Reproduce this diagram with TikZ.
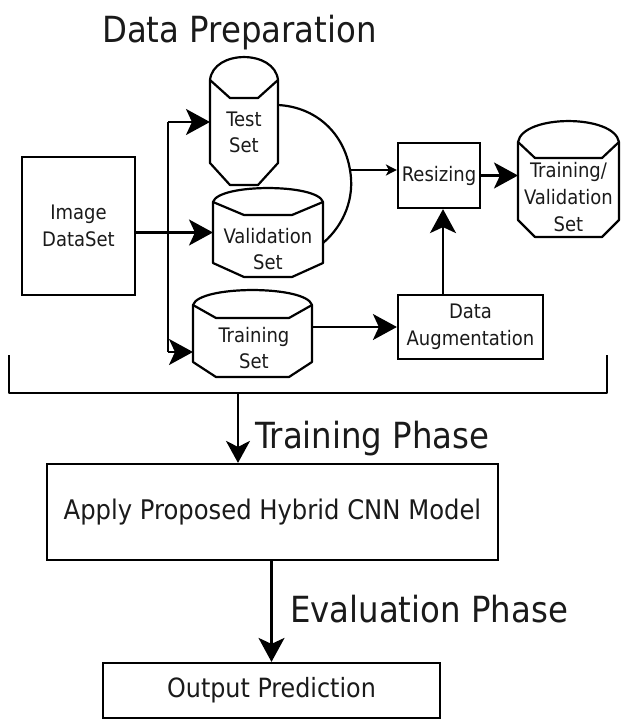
\documentclass[tikz,border=0pt]{standalone}
\usepackage{fontspec}
\setmainfont{DejaVu Sans Condensed}
\usetikzlibrary{arrows.meta}
\definecolor{ink}{HTML}{1A1A1A}
\newcommand\drawcyl[8]{% L R Ttop Tcap Tin Sbot Bot d
  \draw[ln] (#1,#4) .. controls ({#1+0.05*(#2-#1)},{#4-1.33*(#4-#3)}) and ({#2-0.05*(#2-#1)},{#4-1.33*(#4-#3)}) .. (#2,#4)
     -- (#2,#6) -- ({#2-#8},#7) -- ({#1+#8},#7) -- (#1,#6) -- cycle;
  \draw[ln] (#1,#4) -- ({#1+#8},#5) -- ({#2-#8},#5) -- (#2,#4);
}
\begin{document}
\begin{tikzpicture}[x=1pt,y=-1pt,
  ln/.style={line width=2.2pt, draw=black, line join=round},
  box/.style={draw=black, line width=2.2pt, inner sep=0pt, align=center, text=ink},
  body/.style={inner sep=0pt, outer sep=0pt, draw=none},
  txt/.style={text=ink, align=center, inner sep=0pt, font=\fontsize{20}{26}\selectfont},
  phase/.style={text=ink, inner sep=0pt, anchor=base west, font=\fontsize{36}{40}\selectfont},
  big/.style={ln, -{Stealth[length=24pt,width=26pt,inset=6pt]}},
  mid/.style={ln, -{Stealth[length=22pt,width=24pt,inset=6pt]}},
  small/.style={ln, -{Stealth[length=11pt,width=11pt,inset=3pt]}}
]
\useasboundingbox (0,0) rectangle (622,720);

% title
\node[phase] (title) at (102,42) {Data Preparation};

% image dataset
\node[box, minimum width=113pt, minimum height=138pt, font=\fontsize{20}{27}\selectfont] (img) at (78.5,226) {Image\\DataSet};

% cylinders
\drawcyl{210}{278}{57}{80}{98}{163}{185}{20}
\node[body, minimum width=68pt, minimum height=83pt] (test) at (244,121.5) {};
\node[txt] (testtxt) at (244,132) {Test\\Set};

\drawcyl{213}{323}{188}{202}{215}{263}{277}{31}
\node[body, minimum width=110pt, minimum height=61pt] (val) at (268,232.5) {};
\node[txt] (valtxt) at (268,249) {Validation\\Set};

\drawcyl{193}{312}{290}{305}{318}{362}{377}{23}
\node[body, minimum width=119pt, minimum height=57pt] (train) at (252.5,333.5) {};
\node[txt] (traintxt) at (254,348) {Training\\Set};

\drawcyl{518}{619}{121}{142}{158}{220}{237}{17}
\node[body, minimum width=101pt, minimum height=78pt] (tv) at (568.5,181) {};
\node[txt, font=\fontsize{20}{27}\selectfont] (tvtxt) at (568.5,197) {Training/\\Validation\\Set};

% boxes
\node[box, minimum width=82pt, minimum height=65pt, font=\fontsize{20}{26}\selectfont] (resize) at (439,175.5) {Resizing};
\node[box, minimum width=145pt, minimum height=64pt, font=\fontsize{20}{27}\selectfont] (aug) at (470.5,327) {Data\\Augmentation};

\node[box, minimum width=451pt, minimum height=96pt, font=\fontsize{27}{30}\selectfont] (apply) at (272.5,512) {Apply Proposed Hybrid CNN Model};
\node[box, minimum width=337pt, minimum height=55pt, font=\fontsize{26.5}{30}\selectfont] (out) at (271.5,690.5) {Output Prediction};

% phase labels
\node[phase] (trainphase) at (255,448) {Training Phase};
\node[phase] (evalphase) at (290,622) {Evaluation Phase};

% connectors
\coordinate (split) at (168,122);
\coordinate (splitb) at (168,352);
\draw[big] (img.east |- val.west) -- (val.west);
\draw[ln] (split) -- (splitb);
\draw[big] (split) -- (split -| test.west);
\draw[big] (splitb) -- (splitb -| train.west);

\coordinate (arcS) at (278,105);
\coordinate (arcM) at (350,170);
\coordinate (arcE) at (323,243);
\draw[ln] (arcS) .. controls (316,107) and (344,133) .. (arcM) .. controls (355,198) and (344,225) .. (arcE);
\draw[small] (arcM) -- (arcM -| resize.west);

\draw[big] (resize.east) -- (resize.east -| tv.west);
\draw[big] (train.east |- aug.west) -- (aug.west);
\draw[big] (aug.north -| 443,0) -- (resize.south -| 443,0);

% bracket
\coordinate (brL) at (9,355);
\coordinate (brLb) at (9,393);
\coordinate (brRb) at (607,393);
\coordinate (brR) at (607,355);
\draw[ln] (brL) -- (brLb) -- (brRb) -- (brR);
\coordinate (brOut) at (238,393);
\draw[mid] (brOut) -- (brOut |- apply.north);

\draw[big] (apply.south -| out.north) -- (out.north);
\end{tikzpicture}
\end{document}
